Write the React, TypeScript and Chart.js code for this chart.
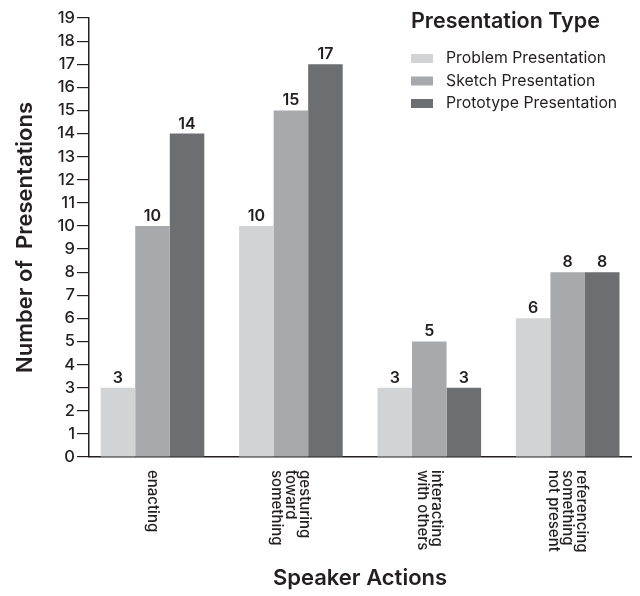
import React, { useEffect, useRef } from "react";
import { Chart, registerables } from "chart.js";

Chart.register(...registerables);

// Speaker actions (multi-line labels, drawn rotated under the axis)
const categories: string[][] = [
  ["enacting"],
  ["gesturing", "toward", "something"],
  ["interacting", "with others"],
  ["referencing", "something", "not present"],
];

const seriesNames = ["Problem Presentation", "Sketch Presentation", "Prototype Presentation"];
const problemValues = [3, 10, 3, 6];
const sketchValues = [10, 15, 5, 8];
const prototypeValues = [14, 17, 3, 8];

const yMin = 0;
const yMax = 19;
const yStep = 1;

const legendTitle = "Presentation Type";
const xTitle = "Speaker Actions";
const yTitle = "Number of  Presentations";

const seriesColors = ["#d1d3d4", "#a7a9ac", "#6d6e71"];
const ink = "#231f20";
const FONT = "Inter, Lato, sans-serif";

const valueLabelPlugin = {
  id: "valueLabels",
  afterDatasetsDraw(chart: any) {
    const { ctx } = chart;
    ctx.save();
    ctx.fillStyle = ink;
    ctx.font = `600 16px ${FONT}`;
    ctx.textAlign = "center";
    ctx.textBaseline = "alphabetic";
    chart.data.datasets.forEach((ds: any, di: number) => {
      const meta = chart.getDatasetMeta(di);
      meta.data.forEach((el: any, i: number) => {
        ctx.fillText(String(ds.data[i].y), el.x, el.y - 5);
      });
    });
    ctx.restore();
  },
};

const categoryLabelPlugin = {
  id: "categoryLabels",
  afterDraw(chart: any) {
    const { ctx, chartArea } = chart;
    const xScale = chart.scales.x;
    const lineH = 14;
    ctx.save();
    ctx.fillStyle = ink;
    ctx.font = `500 15px ${FONT}`;
    ctx.textAlign = "left";
    ctx.textBaseline = "middle";
    categories.forEach((lines, i) => {
      const cx = xScale.getPixelForValue(i);
      ctx.save();
      ctx.translate(cx, chartArea.bottom + 13);
      ctx.rotate(Math.PI / 2);
      lines.forEach((line, li) => {
        const off = (li - (lines.length - 1) / 2) * lineH;
        ctx.fillText(line, 0, off);
      });
      ctx.restore();
    });
    ctx.restore();
  },
};

const legendPlugin = {
  id: "cornerLegend",
  afterDraw(chart: any) {
    const { ctx } = chart;
    const x0 = 411;
    ctx.save();
    ctx.fillStyle = ink;
    ctx.textAlign = "left";
    ctx.textBaseline = "alphabetic";
    ctx.font = `600 21.5px ${FONT}`;
    ctx.fillText(legendTitle, x0, 28);
    ctx.font = `15.8px ${FONT}`;
    ctx.textBaseline = "middle";
    chart.data.datasets.forEach((ds: any, i: number) => {
      const cy = 58.5 + i * 22.5;
      ctx.fillStyle = ds.backgroundColor;
      ctx.fillRect(x0, cy - 4.5, 22, 9);
      ctx.fillStyle = ink;
      ctx.fillText(ds.label, x0 + 35, cy);
    });
    ctx.restore();
  },
};

const toPoints = (vals: number[]) => vals.map((v, i) => ({ x: i, y: v }));

export default function App() {
  const ref = useRef<HTMLCanvasElement | null>(null);

  useEffect(() => {
    if (!ref.current) return;
    const chart = new Chart(ref.current, {
      type: "bar",
      data: {
        datasets: [problemValues, sketchValues, prototypeValues].map((vals, i) => ({
          label: seriesNames[i],
          data: toPoints(vals),
          backgroundColor: seriesColors[i],
          borderWidth: 0,
          categoryPercentage: 0.7486,
          barPercentage: 1,
        })),
      },
      options: {
        responsive: false,
        animation: false,
        layout: { padding: { left: 0, top: 18, right: 9, bottom: 0 } },
        plugins: {
          legend: { display: false },
          tooltip: { enabled: false },
        },
        scales: {
          x: {
            type: "linear",
            offset: false,
            min: -0.4588,
            max: 3.4574,
            ticks: { display: false },
            grid: { display: false, drawTicks: false },
            border: { display: true, color: ink, width: 1.5 },
            title: {
              display: true,
              text: xTitle,
              color: ink,
              font: { family: FONT, size: 22, weight: "600" },
              padding: { top: 0, bottom: 4 },
            },
            afterBuildTicks(scale: any) {
              // one tick per category so bar widths follow the category spacing
              scale.ticks = categories.map((_, i) => ({ value: i }));
            },
            afterFit(scale: any) {
              scale.height = 139;
            },
          },
          y: {
            min: yMin,
            max: yMax,
            ticks: {
              stepSize: yStep,
              color: ink,
              padding: 2,
              font: { family: FONT, size: 16.5, weight: "500" },
            },
            grid: {
              drawOnChartArea: false,
              drawTicks: true,
              tickLength: 12,
              color: ink,
              lineWidth: 1.2,
            },
            border: { display: true, color: ink, width: 1.5 },
            title: {
              display: true,
              text: yTitle,
              color: ink,
              font: { family: FONT, size: 22, weight: "600" },
              padding: { top: 12, bottom: 0 },
            },
            afterFit(scale: any) {
              scale.width = 89;
            },
          },
        },
      },
      plugins: [valueLabelPlugin, categoryLabelPlugin, legendPlugin],
    } as any);
    return () => chart.destroy();
  }, []);

  return (
    <div style={{ position: "fixed", left: 0, top: 0, width: 640, height: 596, background: "#fff" }}>
      <canvas ref={ref} width={640} height={596} style={{ display: "block", width: 640, height: 596 }} />
    </div>
  );
}
